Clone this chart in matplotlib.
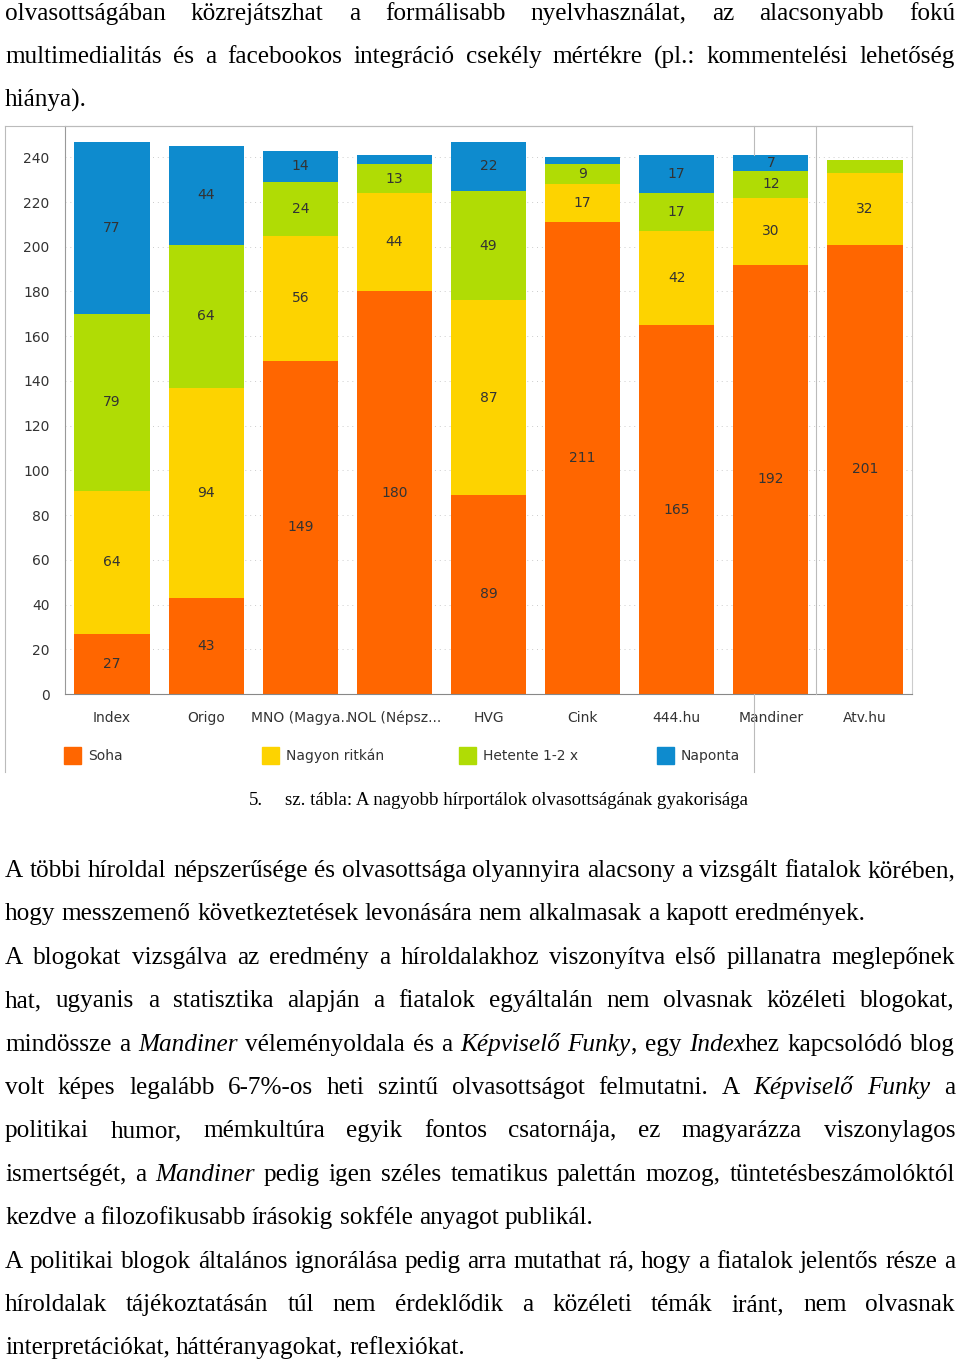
import matplotlib.pyplot as plt
from matplotlib.lines import Line2D
from matplotlib.patches import Rectangle

# adatok: hírportálok olvasottsága (fő)
sites = ["Index", "Origo", "MNO (Magya..", "NOL (Népsz...", "HVG", "Cink",
         "444.hu", "Mandiner", "Atv.hu"]
soha = [27, 43, 149, 180, 89, 211, 165, 192, 201]
ritkan = [64, 94, 56, 44, 87, 17, 42, 30, 32]
hetente = [79, 64, 24, 13, 49, 9, 17, 12, 6]
naponta = [77, 44, 14, 4, 22, 3, 17, 7, 0]
series_names = ["Soha", "Nagyon ritkán", "Hetente 1-2 x", "Naponta"]
colors = ["#FF6600", "#FDD300", "#B0DC05", "#0E8BCE"]
yticks = list(range(0, 241, 20))

W, H = 960, 1359
fig = plt.figure(figsize=(W / 100, H / 100), dpi=100)
renderer = fig.canvas.get_renderer()


def fx(px):
    return px / W


def fy(py):
    return 1 - py / H


# --- diagram ---
CFS = 10
ax = fig.add_axes([fx(65), fy(694), fx(912) - fx(65), fy(126) - fy(694)])
bottom = [0] * len(sites)
for vals, name, col in zip([soha, ritkan, hetente, naponta], series_names, colors):
    bars = ax.bar(range(len(sites)), vals, 0.8, bottom=bottom, color=col, label=name)
    ax.bar_label(bars, labels=[str(v) if v >= 7 else "" for v in vals],
                 label_type="center", fontsize=CFS, color="#333333",
                 family="DejaVu Sans")
    bottom = [b + v for b, v in zip(bottom, vals)]

ax.set_xlim(-0.5, len(sites) - 0.5)
ax.set_ylim(0, 254)
ax.set_yticks(yticks)
ax.set_xticks(range(len(sites)))
ax.set_xticklabels(sites)
ax.tick_params(length=0, labelsize=CFS, labelcolor="#333333")
ax.tick_params(axis="y", pad=11)
ax.tick_params(axis="x", pad=12)
ax.yaxis.grid(True, color="#cccccc", linestyle=(0, (1, 4)), linewidth=0.7)
ax.set_axisbelow(True)
ax.spines["left"].set_color("#999999")
ax.spines["top"].set_color("#bbbbbb")
ax.spines["right"].set_color("#cccccc")
ax.spines["bottom"].set_color("#888888")

# keret vonalak
for xs, ys in [([5, 5], [126, 772]), ([5, 912], [126, 126]),
               ([754, 754], [126, 155]), ([754, 754], [694, 772]),
               ([816, 816], [126, 694])]:
    fig.add_artist(Line2D([fx(x) for x in xs], [fy(y) for y in ys],
                          color="#bbbbbb", lw=0.8))

# jelmagyarázat
for i, (name, col) in enumerate(zip(series_names, colors)):
    x0 = 64 + i * 197.7
    fig.add_artist(Rectangle((fx(x0), fy(764)), fx(17), 17 / H, color=col,
                             transform=fig.transFigure))
    fig.text(fx(x0 + 24), fy(756), name, fontsize=CFS, color="#333333",
             va="center", family="DejaVu Sans")

# --- szöveg ---
FS = 18.2
SERIF = "Liberation Serif"
X0, X1 = 5, 955


def parse(line):
    words = []
    for w in line.split(" "):
        segs = [(s, i % 2 == 1) for i, s in enumerate(w.split("_")) if s]
        words.append(segs)
    return words


def draw_line(text, base, justify):
    words = parse(text)
    parts, widths = [], []
    for w in words:
        segs, tot = [], 0
        for s, it in w:
            t = fig.text(0, 0, s, fontsize=FS, family=SERIF,
                         style="italic" if it else "normal", va="baseline")
            wd = t.get_window_extent(renderer).width
            segs.append((t, wd))
            tot += wd
        parts.append(segs)
        widths.append(tot)
    if justify and len(words) > 1:
        gap = (X1 - X0 - sum(widths)) / (len(words) - 1)
    else:
        gap = 0.25 * FS * 100 / 72
    x = X0
    for segs in parts:
        for t, wd in segs:
            t.set_position((fx(x), fy(base)))
            x += wd
        x += gap


top_lines = [
    ("olvasottságában közrejátszhat a formálisabb nyelvhasználat, az alacsonyabb fokú", True),
    ("multimedialitás és a facebookos integráció csekély mértékre (pl.: kommentelési lehetőség", True),
    ("hiánya).", False),
]
body_lines = [
    ("A többi híroldal népszerűsége és olvasottsága olyannyira alacsony a vizsgált fiatalok körében,", True),
    ("hogy messzemenő következtetések levonására nem alkalmasak a kapott eredmények.", False),
    ("A blogokat vizsgálva az eredmény a híroldalakhoz viszonyítva első pillanatra meglepőnek", True),
    ("hat, ugyanis a statisztika alapján a fiatalok egyáltalán nem olvasnak közéleti blogokat,", True),
    ("mindössze a _Mandiner_ véleményoldala és a _Képviselő_ _Funky_, egy _Index_hez kapcsolódó blog", True),
    ("volt képes legalább 6-7%-os heti szintű olvasottságot felmutatni. A _Képviselő_ _Funky_ a", True),
    ("politikai humor, mémkultúra egyik fontos csatornája, ez magyarázza viszonylagos", True),
    ("ismertségét, a _Mandiner_ pedig igen széles tematikus palettán mozog, tüntetésbeszámolóktól", True),
    ("kezdve a filozofikusabb írásokig sokféle anyagot publikál.", False),
    ("A politikai blogok általános ignorálása pedig arra mutathat rá, hogy a fiatalok jelentős része a", True),
    ("híroldalak tájékoztatásán túl nem érdeklődik a közéleti témák iránt, nem olvasnak", True),
    ("interpretációkat, háttéranyagokat, reflexiókat.", False),
]

LS = 43.4
for i, (txt, j) in enumerate(top_lines):
    draw_line(txt, 20 + i * LS, j)
for i, (txt, j) in enumerate(body_lines):
    draw_line(txt, 877 + i * LS, j)

# ábracím
fig.text(fx(249), fy(805), "5.", fontsize=13.6, family=SERIF, va="baseline")
fig.text(fx(285), fy(805), "sz. tábla: A nagyobb hírportálok olvasottságának gyakorisága",
         fontsize=13.6, family=SERIF, va="baseline")

fig.savefig("out.png", dpi=100)
